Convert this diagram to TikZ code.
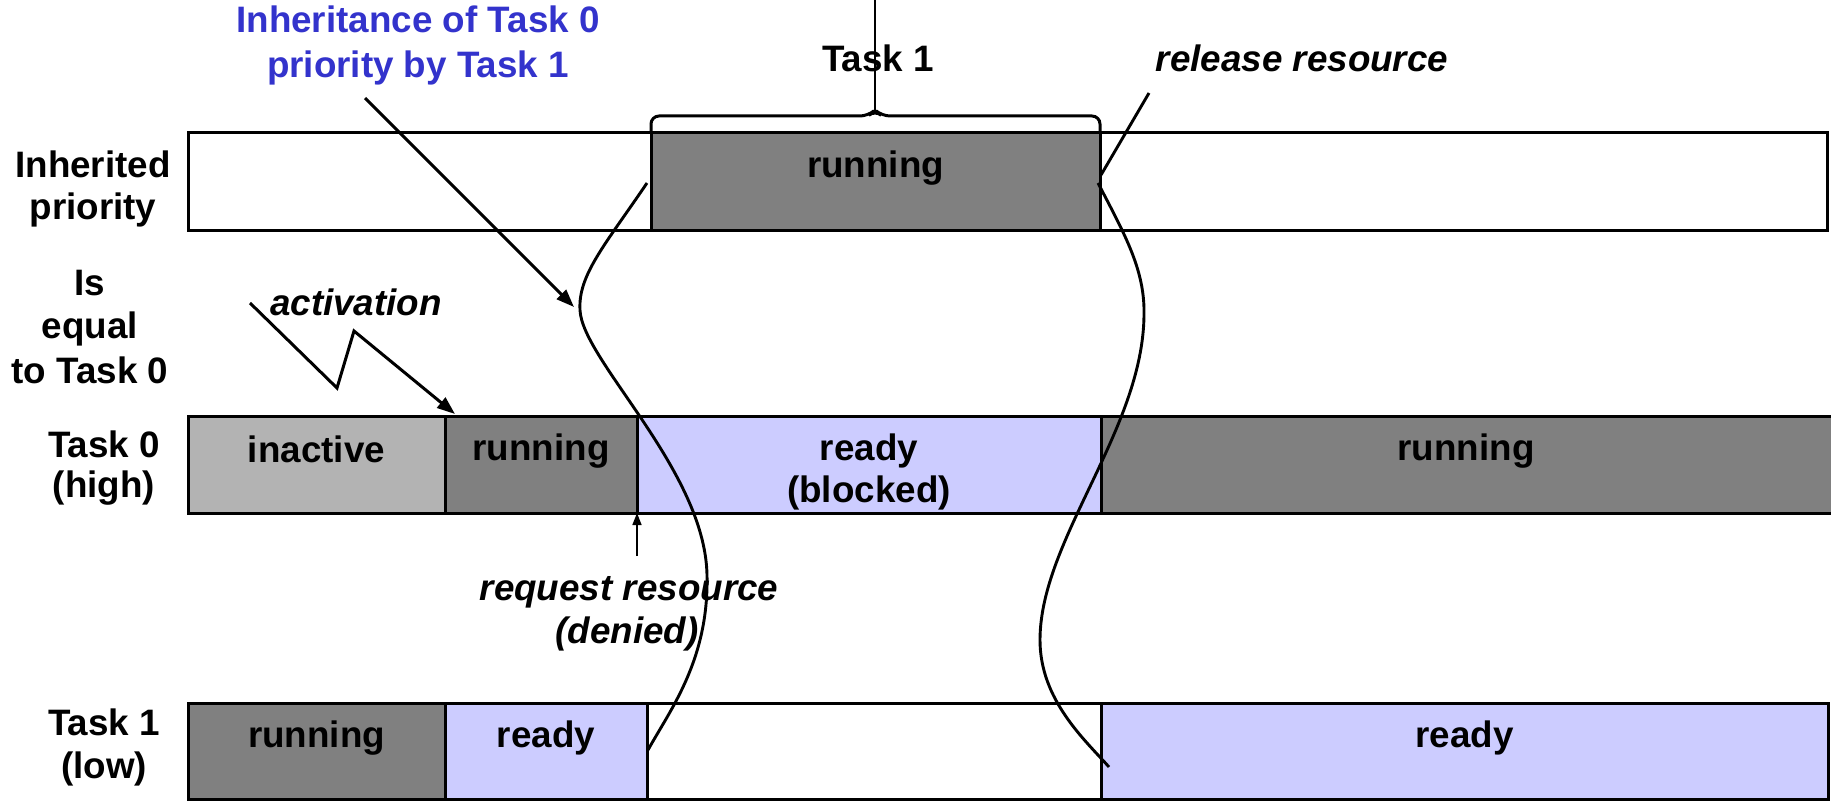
\documentclass[tikz,border=0pt]{standalone}
\usepackage{fontspec}
\setmainfont{Liberation Sans}
\usetikzlibrary{arrows.meta}
\definecolor{rungray}{RGB}{128,128,128}
\definecolor{inactgray}{RGB}{179,179,179}
\definecolor{readyblue}{RGB}{204,204,255}
\definecolor{inhblue}{RGB}{51,51,204}
\begin{document}
\begin{tikzpicture}[x=0.5pt,y=-0.5pt,
  seg/.style={draw=black, line width=1.5pt, inner sep=0pt, outer sep=0pt},
  barA/.style={seg, minimum height=49pt},
  barB/.style={seg, minimum height=48.5pt},
  barC/.style={seg, minimum height=48pt},
  lbl/.style={font=\fontsize{18.4pt}{22pt}\selectfont\bfseries, inner sep=0pt, anchor=base},
  ilbl/.style={font=\fontsize{18.4pt}{22pt}\selectfont\bfseries\itshape, inner sep=0pt, anchor=base},
  curve/.style={line width=1.45pt},
  bigarrow/.style={line width=1.5pt, -{Triangle[length=9pt,width=6.5pt]}},
  smallarrow/.style={line width=0.8pt, -{Triangle[length=6pt,width=4.5pt]}}]
\useasboundingbox (0,0) rectangle (1831,802);

% Inherited priority bar
\node[barA, fill=white, minimum width=231.5pt] (inhW1) at (419.5,182) {};
\node[barA, fill=rungray, minimum width=224.5pt] (inhRun) at (875.5,182) {};
\node[barA, fill=white, minimum width=363.5pt] (inhW2) at (1463.5,182) {};

% Task 0 bar
\node[barB, fill=inactgray, minimum width=128.5pt] (t0inact) at (316.5,464.5) {};
\node[barB, fill=rungray, minimum width=96pt] (t0run) at (541,464.5) {};
\node[barB, fill=readyblue, minimum width=232pt] (t0ready) at (869,464.5) {};
\node[barB, fill=rungray, minimum width=372pt] (t0run2) at (1473,464.5) {};

% Task 1 bar
\node[barC, fill=rungray, minimum width=128.5pt] (t1run) at (316.5,751) {};
\node[barC, fill=readyblue, minimum width=101pt] (t1ready) at (546,751) {};
\node[barC, fill=white, minimum width=227pt] (t1white) at (874,751) {};
\node[barC, fill=readyblue, minimum width=363.5pt] (t1ready2) at (1464.5,751) {};

% texts in bars
\node[lbl] (txInhRun) at (875.5,178) {running};
\node[lbl] (txT0inact) at (316.5,462) {inactive};
\node[lbl] (txT0run) at (541,460) {running};
\node[lbl] (txT0ready) at (869,460) {ready};
\node[lbl] (txT0blocked) at (869,502) {(blocked)};
\node[lbl] (txT0run2) at (1466,460) {running};
\node[lbl] (txT1run) at (316.5,747) {running};
\node[lbl] (txT1ready) at (546,747) {ready};
\node[lbl] (txT1ready2) at (1464.5,747) {ready};

% left labels
\node[lbl] (lInh1) at (93,178) {Inherited};
\node[lbl] (lInh2) at (93,220) {priority};
\node[lbl] (lIs1) at (90,295) {Is};
\node[lbl] (lIs2) at (90,338) {equal};
\node[lbl] (lIs3) at (90,383) {to Task 0};
\node[lbl] (lT01) at (104,457) {Task 0};
\node[lbl] (lT02) at (104,497) {(high)};
\node[lbl] (lT11) at (104,735) {Task 1};
\node[lbl] (lT12) at (104,778) {(low)};

% top labels
\node[lbl, text=inhblue] (inh1) at (418,33) {Inheritance of Task 0};
\node[lbl, text=inhblue] (inh2) at (418,78) {priority by Task 1};
\node[lbl] (task1top) at (878,72) {Task 1};
\node[ilbl] (release) at (1302,72) {release resource};
\node[ilbl] (activation) at (356,315) {activation};
\node[ilbl] (request1) at (629,600) {request resource};
\node[ilbl] (request2) at (627,643) {(denied)};

% brace over Task 1 running
\draw[line width=1.5pt, rounded corners=4pt] (inhRun.north west) -- (651,116) -- (868,116) -- (875,110) -- (882,116) -- (1100,116) -- (inhRun.north east);
\coordinate (stemTop) at (875,0);
\draw[line width=1pt] (875,112) -- (stemTop);

% release resource line
\coordinate (relTop) at (1149,93);
\coordinate (relBot) at (1101,175);
\draw[curve] (relTop) -- (relBot);

% inheritance arrow
\coordinate (inhStart) at (365,98);
\coordinate (inhTip) at (574,307);
\draw[bigarrow] (inhStart) -- (inhTip);

% activation lightning
\coordinate (actStart) at (250,303);
\draw[bigarrow] (actStart) -- (337,388) -- (354,331) -- ([xshift=5pt,yshift=1pt]t0run.north west);

% request resource arrow
\coordinate (reqStart) at (637,556);
\draw[smallarrow] (reqStart) -- (t0run.south east);

% S curves
\coordinate (lcTop) at (647,183);
\coordinate (lcBot) at (648,750);
\draw[curve] (lcTop) .. controls (605,245) and (578,275) .. (580,310)
  .. controls (582,360) and (705,470) .. (707,575)
  .. controls (709,660) and (670,710) .. (lcBot);
\coordinate (rcTop) at (1098,183);
\coordinate (rcBot) at (1109,767);
\draw[curve] (rcTop) .. controls (1125,235) and (1145,270) .. (1144,315)
  .. controls (1143,430) and (1040,540) .. (1040,640)
  .. controls (1040,700) and (1085,740) .. (rcBot);
\end{tikzpicture}
\end{document}
